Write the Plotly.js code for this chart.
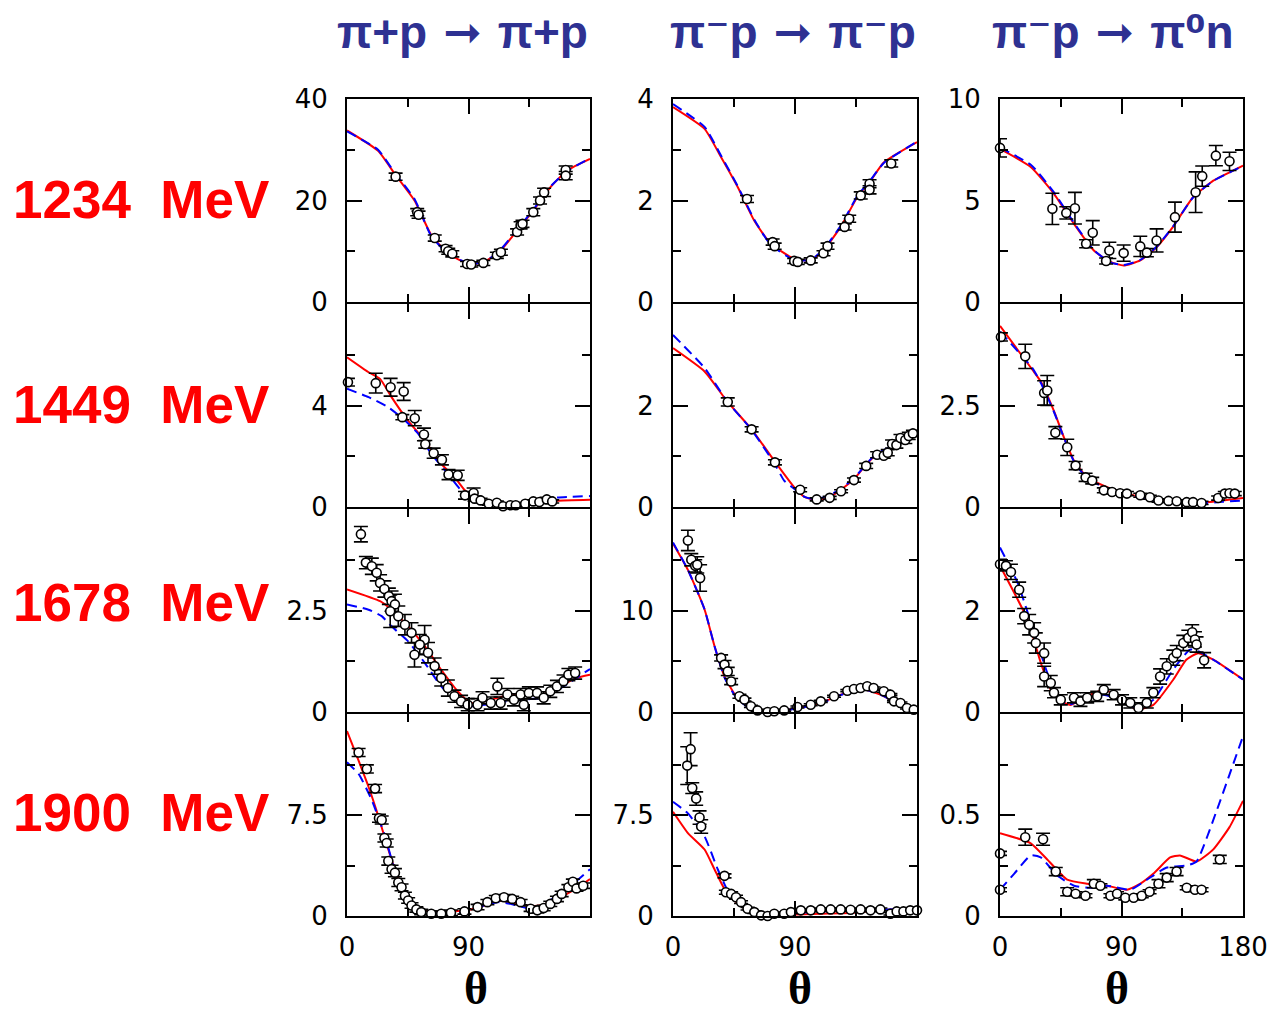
<!DOCTYPE html>
<html>
<head>
<meta charset="utf-8">
<script src="https://cdn.plot.ly/plotly-3.0.1.min.js"></script>
<style>html,body{margin:0;padding:0;background:#fff;}#chart{width:1277px;height:1016px;}</style>
</head>
<body>
<div id="chart"></div>
<script>
// ---------------- DATA ----------------
const reactionsLeft = ['π+p', 'π⁻p', 'π⁻p'];
const reactionsRight = ['π+p', 'π⁻p', 'π⁰n'];
const energies = ['1234', '1449', '1678', '1900'];
const thetaTicks = [0, 90, 180];
const yMax = [40, 4, 10, 8, 4, 5, 5, 20, 4, 15, 15, 1];

// Panel 1: 1234 MeV, pi+ p elastic
const d1_t = [36, 52, 53, 65, 73, 75, 78, 89, 92, 101, 111, 114, 126, 128.6, 130, 138, 143, 146, 162, 162];
const d1_v = [24.7, 17.7, 17.2, 12.6, 10.5, 10, 9.5, 7.5, 7.4, 7.7, 9.2, 9.8, 13.8, 15.1, 15.4, 17.7, 20, 21.6, 26, 24.9];
const d1_e = [0.7, 0.7, 0.7, 0.6, 0.6, 0.6, 0.6, 0.5, 0.5, 0.5, 0.6, 0.6, 0.6, 0.7, 0.7, 0.7, 0.7, 0.8, 0.8, 0.8];
const r1_t = [0, 23, 35.5, 50, 62, 75, 90.6, 101.6, 114, 126, 138, 150.6, 163, 180];
const r1_v = [33.8, 29.8, 25.2, 20, 13.4, 9.5, 7.5, 7.9, 10.2, 14.1, 18, 22.6, 25.9, 28.2];
const b1_t = [0, 23, 35.5, 50, 62, 75, 90.6, 101.6, 114, 126, 138, 150.6, 163, 180];
const b1_v = [33.6, 30, 25.4, 20.3, 13.2, 9.4, 7.6, 7.8, 10.4, 14.3, 18.2, 22.7, 25.8, 28.3];

// Panel 2: 1234 MeV, pi- p elastic
const d2_t = [54.6, 73.5, 75, 89.4, 92, 101.6, 111, 114, 126.6, 130, 138.5, 145, 145, 161];
const d2_v = [2.03, 1.18, 1.1, 0.81, 0.79, 0.82, 0.96, 1.1, 1.48, 1.64, 2.1, 2.33, 2.21, 2.73];
const d2_e = [0.07, 0.06, 0.06, 0.05, 0.05, 0.05, 0.05, 0.06, 0.06, 0.07, 0.07, 0.08, 0.08, 0.07];
const r2_t = [0, 23.3, 35.5, 47.8, 60, 72, 89.4, 101.6, 111, 123.7, 136, 145.7, 155.5, 180];
const r2_v = [3.84, 3.41, 2.85, 2.26, 1.6, 1.15, 0.85, 0.82, 1.02, 1.48, 2.07, 2.39, 2.75, 3.15];
const b2_t = [0, 23.3, 35.5, 47.8, 60, 72, 89.4, 101.6, 111, 123.7, 136, 145.7, 155.5, 180];
const b2_v = [3.9, 3.45, 2.88, 2.28, 1.62, 1.13, 0.83, 0.83, 1.04, 1.5, 2.09, 2.4, 2.74, 3.16];

// Panel 3: 1234 MeV, charge exchange
const d3_t = [0, 38.8, 49.1, 55.5, 63.8, 68.7, 78.6, 81, 91.6, 103.9, 108.8, 116, 129.6, 144.9, 149.8, 159.9, 170];
const d3_v = [7.59, 4.59, 4.39, 4.62, 2.87, 3.41, 2.02, 2.54, 2.41, 2.74, 2.43, 3.03, 4.18, 5.41, 6.2, 7.21, 6.93];
const d3_e = [0.45, 0.77, 0.3, 0.78, 0.2, 0.6, 0.15, 0.4, 0.4, 0.5, 0.2, 0.57, 0.74, 1.0, 0.5, 0.5, 0.45];
const r3_t = [0, 23, 40, 54.8, 69.5, 81.8, 91.6, 103.9, 116, 128, 143, 158, 170, 180];
const r3_v = [7.54, 6.64, 5.33, 3.85, 2.54, 1.97, 1.8, 2.05, 2.7, 3.69, 5.16, 5.98, 6.39, 6.72];
const b3_t = [0, 23, 40, 54.8, 69.5, 81.8, 91.6, 103.9, 116, 128, 143, 158, 170, 180];
const b3_v = [7.6, 6.75, 5.4, 3.9, 2.55, 1.95, 1.82, 2.07, 2.72, 3.7, 5.15, 5.97, 6.38, 6.7];

// Panel 4: 1449 MeV, pi+ p elastic
const d4_t = [0.7, 21.3, 32.3, 42, 41, 50.2, 57, 58, 64.2, 70.3, 75.2, 82, 87.4, 93.8, 94.5, 99, 105, 111, 115.6, 121, 125, 132, 138, 142.5, 148, 152];
const d4_v = [4.92, 4.88, 4.72, 4.55, 3.54, 3.5, 2.86, 2.47, 2.12, 1.86, 1.28, 1.25, 0.46, 0.55, 0.33, 0.26, 0.13, 0.17, 0.03, 0.07, 0.07, 0.13, 0.22, 0.2, 0.3, 0.22];
const d4_e = [0.15, 0.39, 0.35, 0.35, 0.1, 0.3, 0.25, 0.15, 0.2, 0.2, 0.2, 0.2, 0.15, 0.2, 0.1, 0.08, 0.06, 0.06, 0.05, 0.05, 0.05, 0.05, 0.06, 0.06, 0.08, 0.06];
const r4_t = [0, 16, 24.5, 33, 45, 57.6, 69.8, 79.6, 86.9, 91.8, 101.6, 116, 135, 155, 180];
const r4_v = [5.9, 5.31, 5.05, 4.33, 3.41, 2.62, 1.7, 1.18, 0.68, 0.46, 0.25, 0.15, 0.15, 0.25, 0.29];
const b4_t = [0, 16, 30.6, 43, 52.7, 62.4, 74.7, 84.5, 91.8, 106, 130, 155.5, 180];
const b4_v = [4.66, 4.33, 3.93, 3.41, 2.89, 2.1, 1.31, 0.66, 0.39, 0.15, 0.15, 0.37, 0.43];

// Panel 5: 1449 MeV, pi- p elastic
const d5_t = [40.4, 58, 75.2, 93.8, 106, 115.6, 124, 133.5, 142.5, 150.6, 155.5, 158.4, 161.6, 164.8, 167.8, 171.4, 173.9, 177];
const d5_v = [2.07, 1.53, 0.88, 0.34, 0.15, 0.18, 0.31, 0.53, 0.81, 1.03, 1.01, 1.07, 1.24, 1.22, 1.36, 1.32, 1.4, 1.45];
const d5_e = [0.08, 0.05, 0.05, 0.04, 0.03, 0.03, 0.03, 0.04, 0.05, 0.06, 0.05, 0.06, 0.08, 0.06, 0.07, 0.07, 0.07, 0.06];
const r5_t = [0, 23.3, 40, 58, 75, 89.4, 97, 104, 112, 120, 133, 142, 150, 160, 170, 180];
const r5_v = [3.13, 2.67, 2.08, 1.53, 0.9, 0.39, 0.2, 0.14, 0.16, 0.27, 0.53, 0.82, 1.03, 1.17, 1.32, 1.42];
const b5_t = [0, 23.3, 40, 58, 75, 82, 89.4, 97, 104, 112, 120, 133, 142, 150, 160, 170, 180];
const b5_v = [3.39, 2.74, 2.08, 1.52, 0.85, 0.52, 0.36, 0.2, 0.16, 0.2, 0.3, 0.55, 0.83, 1.05, 1.18, 1.33, 1.45];

// Panel 6: 1449 MeV, charge exchange
const d6_t = [0.7, 18.7, 32.7, 35, 41, 49.8, 56, 63.4, 68.3, 76.9, 83, 89, 94, 103.9, 111, 117.4, 124.8, 130.9, 138.3, 143, 149.3, 161.6, 166.5, 170, 173.9];
const d6_v = [4.19, 3.71, 2.81, 2.87, 1.83, 1.47, 1.02, 0.73, 0.65, 0.41, 0.37, 0.34, 0.33, 0.29, 0.24, 0.16, 0.15, 0.14, 0.12, 0.12, 0.1, 0.22, 0.33, 0.34, 0.33];
const d6_e = [0.1, 0.3, 0.3, 0.37, 0.15, 0.2, 0.1, 0.1, 0.08, 0.06, 0.05, 0.05, 0.05, 0.05, 0.05, 0.04, 0.04, 0.04, 0.04, 0.04, 0.04, 0.05, 0.05, 0.05, 0.05];
const r6_t = [0, 24, 30.2, 40, 47.4, 54.8, 64.6, 79.3, 94, 113.6, 133, 148, 165, 180];
const r6_v = [4.46, 3.38, 3.09, 2.36, 1.71, 1.14, 0.73, 0.49, 0.33, 0.18, 0.1, 0.1, 0.16, 0.22];
const b6_t = [0, 24, 30.2, 40, 47.4, 54.8, 64.6, 79.3, 94, 113.6, 133, 148, 165, 180];
const b6_v = [4.32, 3.42, 3.06, 2.34, 1.7, 1.12, 0.7, 0.46, 0.3, 0.15, 0.08, 0.08, 0.13, 0.16];

// Panel 7: 1678 MeV, pi+ p elastic
const d7_t = [10.3, 14, 18.4, 22, 24.5, 27.7, 31, 33, 35.5, 32, 38, 42.9, 47.8, 50, 57.5, 53.9, 60, 64.9, 69.8, 74.7, 79.6, 84.5, 89.4, 96.7, 100.4, 106.5, 111.4, 113.8, 118.8, 123.7, 128.6, 131, 134.7, 140.8, 145.7, 150.6, 155.5, 160.4, 164, 169];
const d7_v = [4.38, 3.68, 3.59, 3.43, 3.18, 3.03, 2.85, 2.73, 2.65, 2.48, 2.36, 2.15, 1.95, 1.41, 1.78, 1.66, 1.46, 1.13, 0.84, 0.59, 0.39, 0.26, 0.18, 0.18, 0.35, 0.22, 0.63, 0.22, 0.43, 0.3, 0.43, 0.18, 0.47, 0.47, 0.35, 0.51, 0.63, 0.76, 0.92, 0.96];
const d7_e = [0.19, 0.15, 0.2, 0.2, 0.2, 0.2, 0.2, 0.25, 0.25, 0.4, 0.25, 0.25, 0.25, 0.3, 0.35, 0.25, 0.25, 0.2, 0.2, 0.2, 0.15, 0.15, 0.15, 0.15, 0.15, 0.15, 0.2, 0.15, 0.15, 0.15, 0.15, 0.15, 0.15, 0.15, 0.15, 0.15, 0.15, 0.15, 0.15, 0.15];
const r7_t = [0, 24.5, 33, 45.3, 57.6, 69.8, 82, 91.8, 101.6, 116.3, 131, 145.7, 155.5, 170, 180];
const r7_v = [3.02, 2.73, 2.52, 2.11, 1.62, 1.04, 0.51, 0.22, 0.26, 0.39, 0.43, 0.44, 0.59, 0.84, 0.92];
const b7_t = [0, 16, 25.7, 33, 45.3, 57.6, 69.8, 82, 89.4, 101.6, 116.3, 136, 145.7, 160.4, 180];
const b7_v = [2.65, 2.52, 2.36, 2.11, 1.74, 1.21, 0.63, 0.26, 0.14, 0.18, 0.26, 0.32, 0.35, 0.63, 1.06];

// Panel 8: 1678 MeV, pi- p elastic
const d8_t = [11, 13.5, 16.4, 17.9, 20, 35.5, 38, 40.4, 42.9, 49, 52.7, 57.5, 62.4, 69.8, 74.7, 82, 91.8, 101.6, 109, 118.8, 128.6, 133.5, 138.4, 143.3, 148, 155.5, 160.4, 163, 167.8, 172.6, 177.6];
const d8_v = [16.9, 15.0, 14.4, 14.5, 13.2, 5.33, 4.67, 4.0, 3.0, 1.55, 1.22, 0.56, 0.16, 0.0, 0.07, 0.16, 0.49, 0.72, 1.05, 1.55, 2.1, 2.27, 2.37, 2.53, 2.37, 2.04, 1.71, 1.05, 0.89, 0.39, 0.23];
const d8_e = [1.0, 0.6, 0.6, 0.8, 1.3, 0.3, 0.4, 0.4, 0.3, 0.2, 0.15, 0.1, 0.1, 0.1, 0.1, 0.1, 0.1, 0.1, 0.1, 0.1, 0.1, 0.1, 0.1, 0.1, 0.1, 0.1, 0.1, 0.1, 0.1, 0.1, 0.1];
const r8_t = [0, 11, 23.3, 30.6, 38, 46.5, 55, 65, 77, 91.8, 109, 123.7, 133.5, 142, 153, 165, 180];
const r8_v = [16.6, 14.0, 10.1, 6.5, 3.5, 1.55, 0.56, 0.07, 0.07, 0.39, 0.89, 1.71, 2.04, 2.2, 1.71, 0.89, 0.16];
const b8_t = [0, 11, 23.3, 30.6, 38, 46.5, 55, 65, 77, 91.8, 109, 123.7, 133.5, 142, 153, 165, 180];
const b8_v = [16.7, 14.0, 10.1, 6.5, 3.4, 1.45, 0.5, 0.05, 0.1, 0.35, 0.85, 1.68, 2.02, 2.18, 1.72, 0.9, 0.18];

// Panel 9: 1678 MeV, charge exchange
const d9_t = [0, 4.4, 8.1, 14.2, 17.9, 21.6, 25.3, 26.5, 32.7, 32.7, 37.6, 40, 45, 54.8, 59.6, 64.6, 72, 76.9, 84.2, 90.4, 96.5, 102.6, 108.7, 113.6, 118.6, 123.5, 128.4, 130.9, 135.8, 139.5, 142.4, 144.4, 145.6, 151.2];
const d9_v = [2.91, 2.88, 2.76, 2.41, 1.89, 1.72, 1.56, 1.36, 1.16, 0.7, 0.57, 0.38, 0.24, 0.28, 0.21, 0.28, 0.31, 0.44, 0.34, 0.24, 0.18, 0.08, 0.18, 0.38, 0.7, 0.9, 1.07, 1.16, 1.36, 1.46, 1.57, 1.43, 1.33, 1.02];
const d9_e = [0.1, 0.1, 0.15, 0.15, 0.15, 0.2, 0.2, 0.2, 0.2, 0.2, 0.15, 0.1, 0.1, 0.1, 0.1, 0.1, 0.1, 0.1, 0.1, 0.1, 0.1, 0.1, 0.1, 0.1, 0.15, 0.15, 0.15, 0.15, 0.15, 0.15, 0.15, 0.15, 0.15, 0.15];
const r9_t = [0, 20.4, 30.2, 37.6, 45, 52.3, 64.6, 76.9, 89, 101, 113.6, 128.4, 138, 146.8, 158, 180];
const r9_v = [2.88, 1.82, 0.97, 0.44, 0.21, 0.14, 0.31, 0.44, 0.28, 0.05, 0.14, 0.64, 1.03, 1.16, 1.03, 0.64];
const b9_t = [0, 13, 25.3, 35, 42.5, 49.8, 64.6, 76.9, 89, 101, 113.6, 128.4, 140.7, 146.8, 158, 180];
const b9_v = [3.24, 2.55, 1.56, 0.77, 0.31, 0.14, 0.28, 0.34, 0.24, 0.08, 0.24, 0.84, 1.23, 1.2, 1.03, 0.64];

// Panel 10: 1900 MeV, pi+ p elastic
const d10_t = [8.6, 14.7, 20.8, 23.7, 25.7, 27.7, 29.4, 30.6, 33, 35.5, 38, 40.4, 42.9, 45.3, 47.8, 51.4, 55, 62.4, 69.8, 77, 87, 96.7, 104, 110.2, 116.3, 122.4, 128.6, 136, 141, 145.7, 150.6, 155.5, 159, 164, 167.3, 170, 175];
const d10_v = [12.14, 10.92, 9.46, 7.26, 7.13, 5.79, 5.42, 4.08, 3.47, 3.22, 2.49, 2.13, 1.51, 1.15, 0.78, 0.49, 0.29, 0.17, 0.17, 0.24, 0.34, 0.66, 1.03, 1.32, 1.39, 1.27, 1.03, 0.54, 0.42, 0.59, 0.9, 1.27, 1.64, 2.13, 2.54, 2.05, 2.25];
const d10_e = [0.3, 0.3, 0.3, 0.3, 0.3, 0.3, 0.3, 0.3, 0.3, 0.3, 0.3, 0.25, 0.25, 0.2, 0.2, 0.2, 0.2, 0.2, 0.2, 0.2, 0.2, 0.2, 0.2, 0.2, 0.2, 0.2, 0.2, 0.2, 0.2, 0.2, 0.2, 0.2, 0.2, 0.2, 0.2, 0.2, 0.2];
const r10_t = [0, 8.6, 16, 23.3, 30.6, 38, 45.3, 55, 65, 77, 91.8, 101.6, 111.4, 121, 133.5, 143, 155.5, 170, 180];
const r10_v = [13.73, 11.53, 9.58, 7.38, 4.94, 2.74, 1.27, 0.49, 0.29, 0.34, 0.49, 0.78, 1.15, 1.03, 0.78, 0.78, 1.27, 2.05, 2.74];
const b10_t = [0, 8.6, 18.4, 28.2, 38, 45.3, 57.5, 69.8, 87, 101.6, 111.4, 121, 136, 143, 155.5, 170, 180];
const b10_v = [11.41, 10.55, 8.6, 5.91, 2.49, 1.03, 0.34, 0.17, 0.29, 0.78, 1.03, 0.9, 0.54, 0.66, 1.51, 2.61, 3.47];

// Panel 11: 1900 MeV, pi- p elastic
const d11_t = [10.5, 13, 14.2, 17.1, 19.6, 20.8, 38, 39, 42.9, 46.5, 50.2, 55, 60, 65, 69.8, 74.7, 82, 87, 94.3, 101.6, 109, 116.3, 123.7, 131, 138.4, 145.7, 153, 160.4, 165, 170, 175, 180];
const d11_v = [11.17, 12.39, 9.5, 8.72, 7.31, 6.65, 2.98, 1.76, 1.64, 1.39, 1.03, 0.54, 0.29, 0.05, 0.0, 0.17, 0.17, 0.29, 0.42, 0.42, 0.49, 0.49, 0.49, 0.46, 0.49, 0.42, 0.49, 0.17, 0.34, 0.34, 0.42, 0.42];
const d11_e = [1.4, 1.22, 0.4, 0.5, 0.5, 0.5, 0.15, 0.15, 0.15, 0.15, 0.1, 0.1, 0.1, 0.1, 0.1, 0.1, 0.1, 0.1, 0.1, 0.1, 0.1, 0.1, 0.1, 0.1, 0.1, 0.1, 0.1, 0.1, 0.1, 0.1, 0.1, 0.1];
const r11_t = [0, 11, 23.3, 30.6, 38, 45.3, 55, 65, 84.5, 109, 133.5, 153, 180];
const r11_v = [7.74, 6.16, 4.94, 3.47, 2.0, 1.15, 0.42, 0.1, 0.1, 0.17, 0.24, 0.42, 0.59];
const b11_t = [0, 11, 23.3, 33, 40.4, 47.8, 57.5, 67, 84.5, 109, 133.5, 158, 180];
const b11_v = [8.48, 7.62, 5.91, 3.47, 1.88, 1.03, 0.34, 0.05, 0.17, 0.34, 0.42, 0.49, 0.49];

// Panel 12: 1900 MeV, charge exchange
const d12_t = [0, 0, 18.7, 31.9, 41.3, 49.8, 56, 63.3, 69.5, 74.4, 81.8, 86.7, 92.8, 99, 105, 110.8, 117.4, 123.5, 130.8, 138.3, 144.4, 149.3, 162.8];
const d12_v = [0.31, 0.13, 0.39, 0.38, 0.22, 0.12, 0.11, 0.1, 0.16, 0.15, 0.1, 0.11, 0.09, 0.09, 0.1, 0.12, 0.16, 0.19, 0.22, 0.14, 0.13, 0.13, 0.28];
const d12_e = [0.01, 0.01, 0.04, 0.03, 0.02, 0.02, 0.01, 0.01, 0.02, 0.01, 0.01, 0.01, 0.01, 0.01, 0.01, 0.01, 0.02, 0.02, 0.02, 0.01, 0.01, 0.01, 0.02];
const r12_t = [0, 22.8, 35, 49.8, 64.6, 79.3, 94, 104, 113.7, 126, 133.3, 145.6, 158, 170, 180];
const r12_v = [0.41, 0.36, 0.28, 0.18, 0.16, 0.15, 0.13, 0.16, 0.21, 0.29, 0.3, 0.27, 0.33, 0.44, 0.57];
const b12_t = [0, 10.6, 22.8, 30.2, 42.5, 54.8, 67, 79.3, 96.5, 108.8, 123.5, 138.3, 145.6, 160.4, 170, 180];
const b12_v = [0.13, 0.21, 0.3, 0.29, 0.2, 0.15, 0.14, 0.15, 0.13, 0.18, 0.24, 0.25, 0.27, 0.52, 0.7, 0.89];

// ---------------- BUILD ----------------
const panels = [
  [d1_t, d1_v, d1_e, r1_t, r1_v, b1_t, b1_v],
  [d2_t, d2_v, d2_e, r2_t, r2_v, b2_t, b2_v],
  [d3_t, d3_v, d3_e, r3_t, r3_v, b3_t, b3_v],
  [d4_t, d4_v, d4_e, r4_t, r4_v, b4_t, b4_v],
  [d5_t, d5_v, d5_e, r5_t, r5_v, b5_t, b5_v],
  [d6_t, d6_v, d6_e, r6_t, r6_v, b6_t, b6_v],
  [d7_t, d7_v, d7_e, r7_t, r7_v, b7_t, b7_v],
  [d8_t, d8_v, d8_e, r8_t, r8_v, b8_t, b8_v],
  [d9_t, d9_v, d9_e, r9_t, r9_v, b9_t, b9_v],
  [d10_t, d10_v, d10_e, r10_t, r10_v, b10_t, b10_v],
  [d11_t, d11_v, d11_e, r11_t, r11_v, b11_t, b11_v],
  [d12_t, d12_v, d12_e, r12_t, r12_v, b12_t, b12_v]
];

const W = 1277, H = 1016;
const colL = [347, 673, 1000], colR = [590, 917, 1243];
const rowT = [99, 304, 509, 714], rowB = [302, 507, 712, 916];

const traces = [];
const layout = {
  width: W, height: H,
  margin: {l: 0, r: 0, t: 0, b: 0},
  paper_bgcolor: '#fff', plot_bgcolor: '#fff',
  showlegend: false,
  font: {family: 'DejaVu Sans, sans-serif', size: 26, color: '#000'},
  annotations: []
};

panels.forEach((p, k) => {
  const row = Math.floor(k / 3), col = k % 3;
  const sfx = k === 0 ? '' : String(k + 1);
  const xa = 'x' + sfx, ya = 'y' + sfx;
  traces.push({x: p[3], y: p[4], xaxis: xa, yaxis: ya, type: 'scatter', mode: 'lines',
    line: {color: '#ff0000', width: 2, shape: 'spline', smoothing: 0.5}, hoverinfo: 'skip'});
  traces.push({x: p[5], y: p[6], xaxis: xa, yaxis: ya, type: 'scatter', mode: 'lines',
    line: {color: '#0000ff', width: 2, dash: '10px,6px', shape: 'spline', smoothing: 0.5}, hoverinfo: 'skip'});
  traces.push({x: p[0], y: p[1], xaxis: xa, yaxis: ya, type: 'scatter', mode: 'markers',
    cliponaxis: false,
    marker: {symbol: 'circle', size: 9, color: '#fff', line: {color: '#000', width: 1.6}},
    error_y: {type: 'data', array: p[2], visible: true, color: '#000', thickness: 1.6, width: 7}});

  const ym = yMax[k];
  const yvals = row === 0 ? [0, ym / 2, ym] : [0, ym / 2];
  const xvals = (row === 3 && col < 2) ? [0, 90] : thetaTicks;
  layout['xaxis' + sfx] = {
    domain: [colL[col] / W, colR[col] / W], anchor: ya, range: [0, 180],
    showline: true, linecolor: '#000', linewidth: 2, mirror: 'ticks',
    ticks: 'inside', ticklen: 15, tickwidth: 2, tickcolor: '#000',
    tickmode: 'array', tickvals: xvals, ticktext: xvals.map(String),
    showticklabels: row === 3, ticklabelstandoff: 7,
    minor: {tickmode: 'array', tickvals: [45, 135], ticks: 'inside', ticklen: 8, tickwidth: 2, tickcolor: '#000'},
    showgrid: false, zeroline: false, fixedrange: true
  };
  layout['yaxis' + sfx] = {
    domain: [1 - rowB[row] / H, 1 - rowT[row] / H], anchor: xa, range: [0, ym],
    showline: true, linecolor: '#000', linewidth: 2, mirror: 'ticks',
    ticks: 'inside', ticklen: 15, tickwidth: 2, tickcolor: '#000',
    tickmode: 'array', tickvals: yvals, ticktext: yvals.map(String),
    ticklabelstandoff: 12,
    minor: {tickmode: 'array', tickvals: [ym / 4, 3 * ym / 4], ticks: 'inside', ticklen: 8, tickwidth: 2, tickcolor: '#000'},
    showgrid: false, zeroline: false, fixedrange: true
  };
});

// column titles
const titleX = [463, 793, 1113];
const arrow = '<span style="font-family:DejaVu Sans">\u00a0➞\u00a0</span>';
reactionsLeft.forEach((t, i) => {
  layout.annotations.push({text: '<b>' + t + arrow + reactionsRight[i] + '</b>', xref: 'paper', yref: 'paper',
    x: titleX[i] / W, y: 1 - 32 / H, xanchor: 'center', yanchor: 'middle', showarrow: false,
    font: {family: 'Liberation Sans, DejaVu Sans, sans-serif', size: 46, color: '#2e3192'}});
});
// row labels
const rowY = [200, 405, 602, 812];
energies.forEach((e, i) => {
  layout.annotations.push({text: '<b>' + e + '\u00a0\u00a0MeV</b>', xref: 'paper', yref: 'paper',
    x: 11 / W, y: 1 - rowY[i] / H, xanchor: 'left', yanchor: 'middle', showarrow: false,
    font: {family: 'Liberation Sans, Arial, sans-serif', size: 53, color: '#ff0000'}});
});
// theta axis labels
const thX = [476, 800, 1117];
thX.forEach(x => {
  layout.annotations.push({text: '<b>θ</b>', xref: 'paper', yref: 'paper',
    x: x / W, y: 0, xanchor: 'center', yanchor: 'bottom', showarrow: false,
    font: {family: 'Liberation Serif, Times New Roman, serif', size: 46, color: '#000'}});
});

Plotly.newPlot('chart', traces, layout, {staticPlot: true, displayModeBar: false});
</script>
</body>
</html>
